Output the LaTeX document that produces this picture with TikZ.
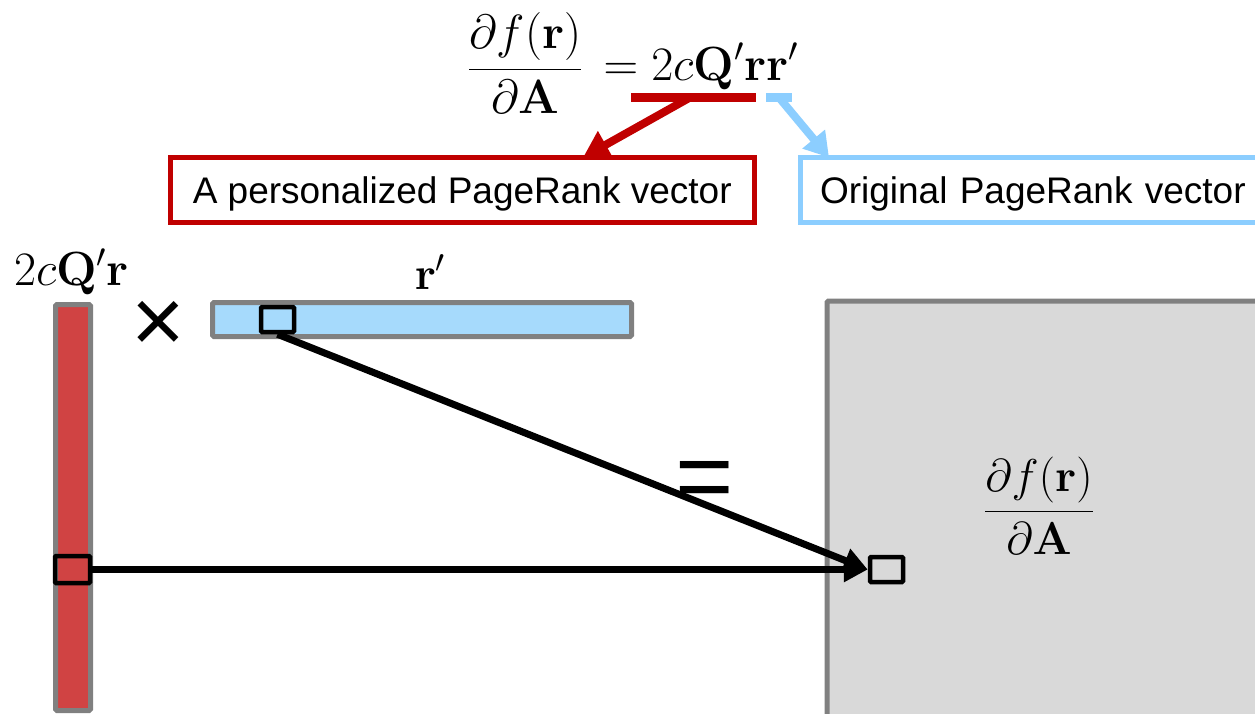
\RequirePackage{fix-cm}
\documentclass[tikz,border=0pt]{standalone}
\usepackage{amsmath}
\usepackage[no-math]{fontspec}
\setmainfont{Liberation Sans}
\usetikzlibrary{arrows.meta,calc}

\definecolor{hlred}{RGB}{192,0,0}
\definecolor{hlblue}{RGB}{140,206,255}
\definecolor{barred}{RGB}{208,67,67}
\definecolor{barblue}{RGB}{166,218,252}
\definecolor{barline}{RGB}{128,128,128}
\definecolor{gradfill}{RGB}{217,217,217}

\begin{document}
\begin{tikzpicture}[x=1pt,y=-1pt,
  bar/.style={draw=barline, line width=5pt, rounded corners=1.5pt, inner sep=0pt},
  cell/.style={draw=black, line width=4.5pt, rounded corners=1pt, inner sep=0pt},
  labelbox/.style={line width=5pt, font=\fontsize{37}{40}\selectfont, minimum height=64.5pt,
    inner sep=0pt, text height=27pt, text depth=0pt},
  flow/.style={line width=7pt, -{Triangle[length=24pt,width=24pt]}},
  mathtext/.style={font=\fontsize{#1}{52}\selectfont, inner sep=0pt},
  mathtext/.default=46,
  symtext/.style={font=\fontsize{#1}{#1}\selectfont, inner sep=0pt}
]
\useasboundingbox (0,0) rectangle (1255,714);
\clip (0,0) rectangle (1255,714);

% equation at the top
\node[mathtext=48, anchor=base] (eq) at (633,81)
  {$\displaystyle\frac{\partial f(\mathbf{r})}{\partial\mathbf{A}} \,= 2c\mathbf{Q}'\mathbf{r}\mathbf{r}'$};

% highlight marks under the equation
\coordinate (ul1) at (631,97.5);
\coordinate (ul2) at (756,97.5);
\coordinate (ulmid) at (690,97.5);
\coordinate (bk1) at (766,97.5);
\coordinate (bk2) at (792,97.5);
\coordinate (bkmid) at (779,97.5);
\draw[hlred, line width=9pt] (ul1) -- (ul2);
\draw[hlblue, line width=9pt] (bk1) -- (bk2);

% explanation boxes
\node[labelbox, draw=hlred, minimum width=584.5pt] (pbox) at (462.25,190.25)
  {A personalized PageRank vector};
\node[labelbox, draw=hlblue, anchor=west, minimum width=470pt, text width=430pt, align=left]
  (obox) at (797.5,190.25) {Original PageRank vector};

\coordinate (ptip) at (583,157.5);
\coordinate (otip) at (829,157.5);
\draw[hlred, line width=8pt, -{Triangle[length=26pt,width=30pt]}] (ulmid) -- (ptip);
\draw[hlblue, line width=8pt, -{Triangle[length=24pt,width=28pt]}] (bkmid) -- (otip);

% operands of the outer product
\node[mathtext=48, anchor=base west] (lhs) at (14,285) {$2c\mathbf{Q}'\mathbf{r}$};
\node[mathtext, anchor=base] (rt) at (430,289) {$\mathbf{r}'$};

\node[bar, fill=barred, minimum width=35pt, minimum height=406pt] (col) at (73,507.5) {};
\node[bar, fill=barblue, minimum width=419pt, minimum height=34pt] (row) at (422,319.5) {};
\node[symtext=92] (times) at (158,327) {×};

% result matrix
\node[bar, fill=gradfill, anchor=north west, minimum width=500pt, minimum height=500pt]
  (grad) at (824.5,298.5) {};
\node[mathtext, anchor=base] (gradlbl) at (1039,522.5)
  {$\displaystyle\frac{\partial f(\mathbf{r})}{\partial\mathbf{A}}$};
\node[symtext=100] (eqsign) at (705,486) {=};

% selected entries
\node[cell, minimum width=33pt, minimum height=25pt] (rcell) at (277.5,319.5) {};
\node[cell, minimum width=35pt, minimum height=27pt] (ccell) at (72.5,569.5) {};
\node[cell, minimum width=33pt, minimum height=25pt] (gcell) at (886.5,569.5) {};

\draw[flow] (rcell.south) -- (gcell.west);
\draw[flow] (ccell.east) -- (gcell.west);
\end{tikzpicture}
\end{document}
